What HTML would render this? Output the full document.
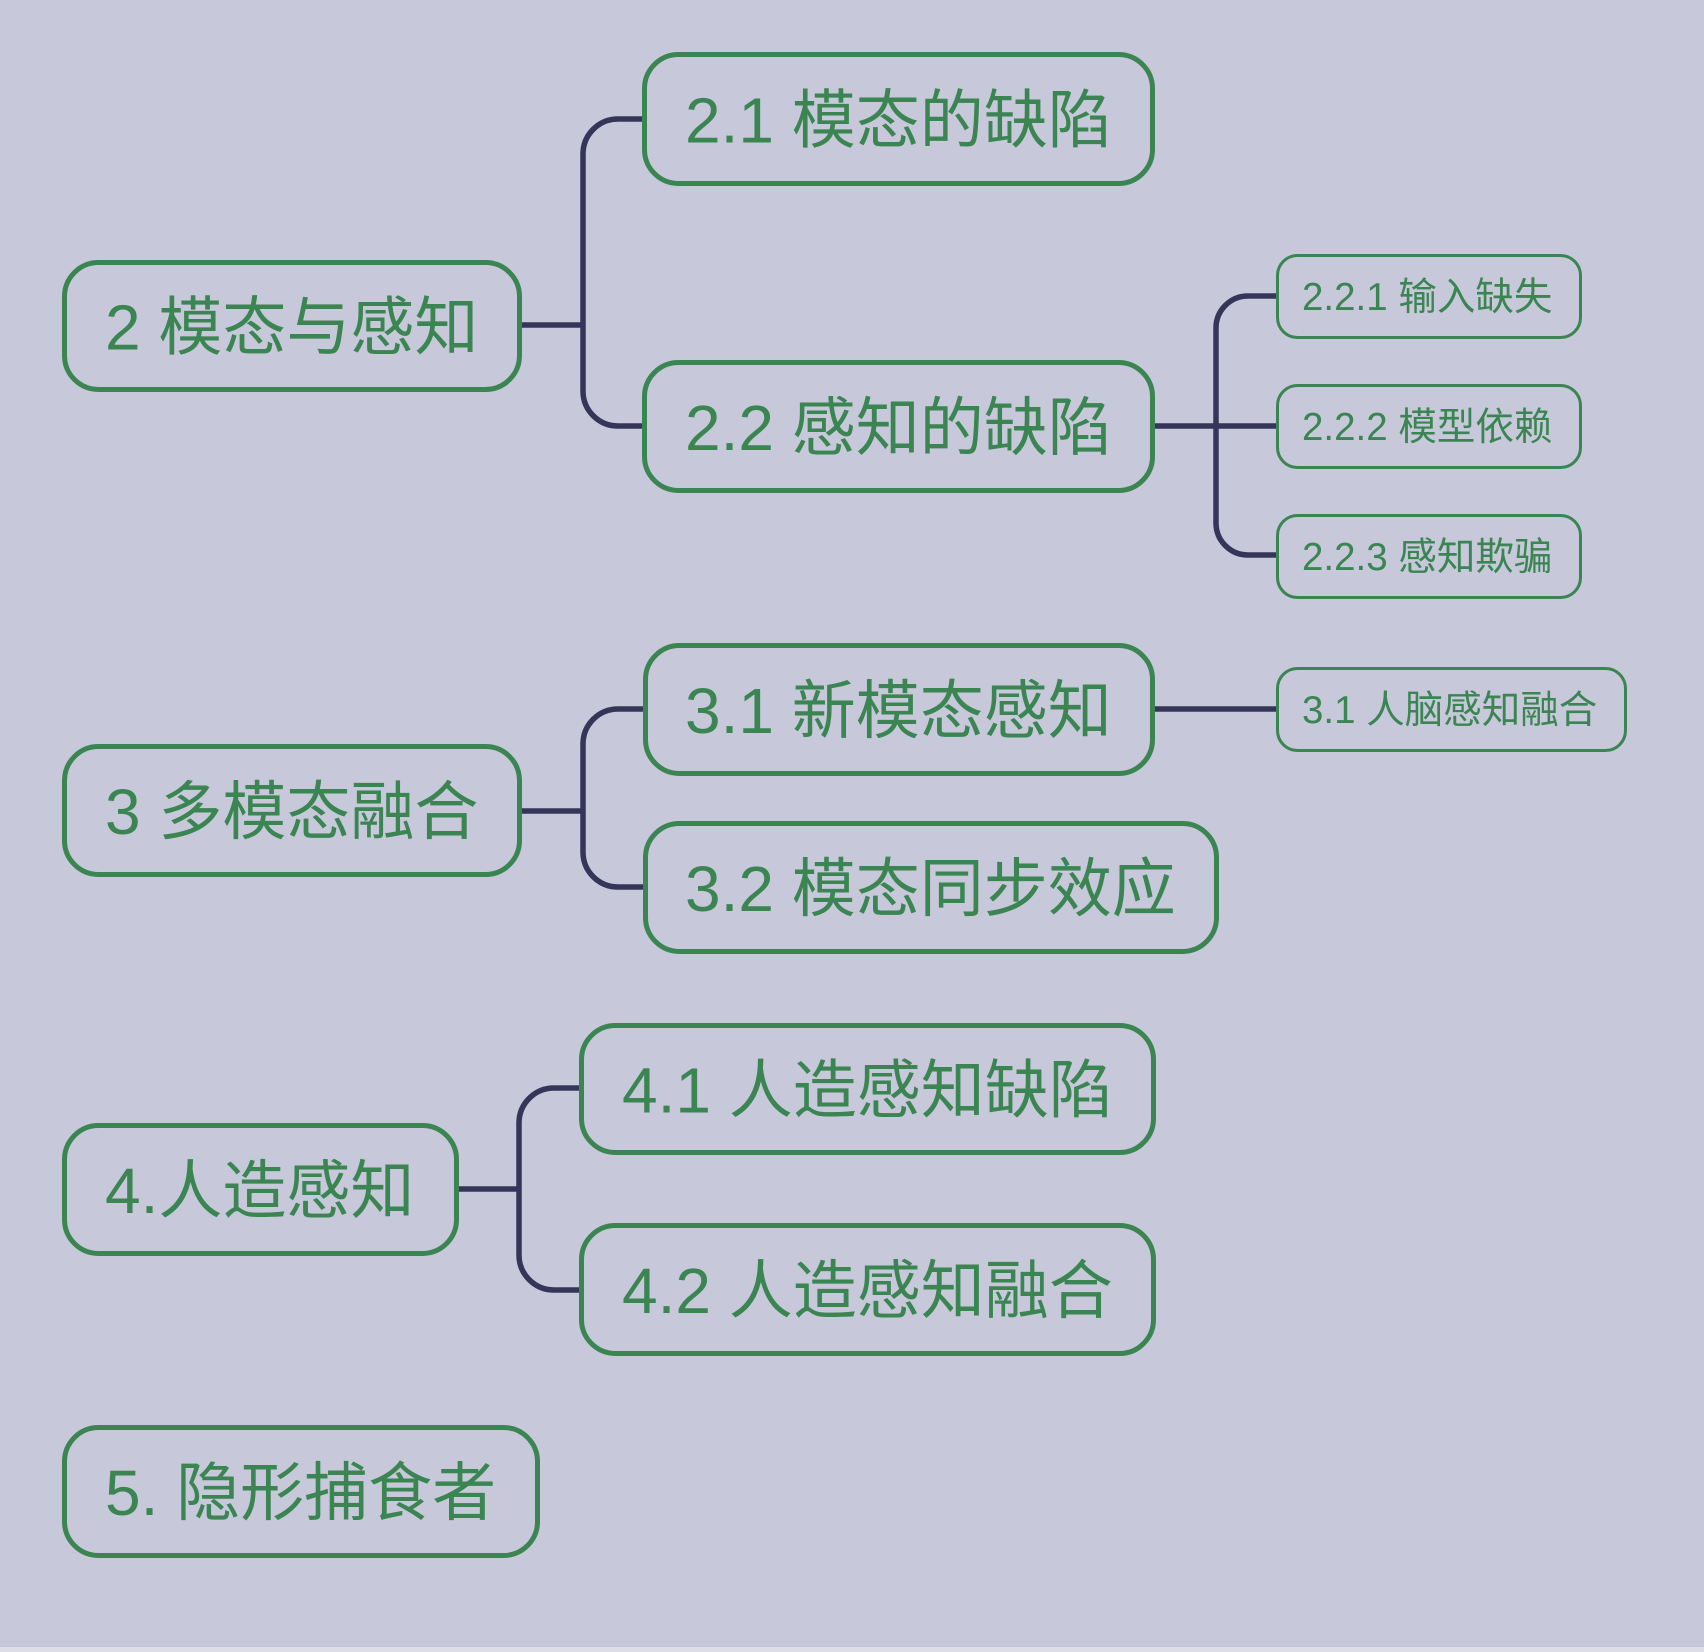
<!DOCTYPE html>
<html>
<head>
<meta charset="utf-8">
<style>
  html, body { margin: 0; padding: 0; background: #c7c8da; }
  body { width: 1704px; height: 1652px; overflow: hidden; }
  svg { display: block; }
  text { font-family: "Liberation Sans", "Noto Sans CJK SC", sans-serif; fill: #3a8552; }
  .big { font-size: 64px; }
  .small { font-size: 38.5px; }
</style>
</head>
<body>
<svg width="1704" height="1652" viewBox="0 0 1704 1652" xmlns="http://www.w3.org/2000/svg">
  <rect x="0" y="0" width="1704" height="1652" fill="#c7c8da"/>
  <rect x="0" y="1647" width="1704" height="5" fill="#dcdde7"/>

  <!-- connectors -->
  <g fill="none" stroke="#35355a" stroke-width="5.5">
    <path d="M522 325 H583"/>
    <path d="M643 119 H618 A35 35 0 0 0 583 154 V391 A35 35 0 0 0 618 426 H643"/>
    <path d="M1155 426 H1276"/>
    <path d="M1276 296 H1248 A32 32 0 0 0 1216 328 V523 A32 32 0 0 0 1248 555 H1276"/>
    <path d="M522 811 H583"/>
    <path d="M643 709 H618 A35 35 0 0 0 583 744 V852 A35 35 0 0 0 618 887 H643"/>
    <path d="M1155 709 H1276"/>
    <path d="M459 1189 H519"/>
    <path d="M579 1088 H554 A35 35 0 0 0 519 1123 V1255 A35 35 0 0 0 554 1290 H579"/>
  </g>

  <!-- big boxes -->
  <g fill="#c7c8da" stroke="#3a8552" stroke-width="5">
    <rect x="64.5" y="262.5" width="455" height="127" rx="34"/>
    <rect x="644.5" y="54.5" width="508" height="129" rx="34"/>
    <rect x="644.5" y="362.5" width="508" height="128" rx="34"/>
    <rect x="64.5" y="746.5" width="455" height="128" rx="34"/>
    <rect x="645.5" y="645.5" width="507" height="128" rx="34"/>
    <rect x="645.5" y="823.5" width="571" height="128" rx="34"/>
    <rect x="64.5" y="1125.5" width="392" height="128" rx="34"/>
    <rect x="581.5" y="1025.5" width="572" height="127" rx="34"/>
    <rect x="581.5" y="1225.5" width="572" height="128" rx="34"/>
    <rect x="64.5" y="1427.5" width="473" height="128" rx="34"/>
  </g>

  <!-- small boxes -->
  <g fill="#c7c8da" stroke="#3a8552" stroke-width="3">
    <rect x="1277.5" y="255.5" width="303" height="82" rx="20"/>
    <rect x="1277.5" y="385.5" width="303" height="82" rx="20"/>
    <rect x="1277.5" y="515.5" width="303" height="82" rx="20"/>
    <rect x="1277.5" y="668.5" width="348" height="82" rx="20"/>
  </g>

  <!-- big labels -->
  <text class="big" x="105" y="349.5">2 模态与感知</text>
  <text class="big" x="685" y="142.5">2.1 模态的缺陷</text>
  <text class="big" x="685" y="450">2.2 感知的缺陷</text>
  <text class="big" x="105" y="834">3 多模态融合</text>
  <text class="big" x="685" y="733">3.1 新模态感知</text>
  <text class="big" x="685" y="911">3.2 模态同步效应</text>
  <text class="big" x="105" y="1213">4.人造感知</text>
  <text class="big" x="622" y="1112.5">4.1 人造感知缺陷</text>
  <text class="big" x="622" y="1313">4.2 人造感知融合</text>
  <text class="big" x="105" y="1515">5. 隐形捕食者</text>

  <!-- small labels -->
  <text class="small" x="1302" y="310">2.2.1 输入缺失</text>
  <text class="small" x="1302" y="440">2.2.2 模型依赖</text>
  <text class="small" x="1302" y="570">2.2.3 感知欺骗</text>
  <text class="small" x="1302" y="723">3.1 人脑感知融合</text>
</svg>
</body>
</html>
